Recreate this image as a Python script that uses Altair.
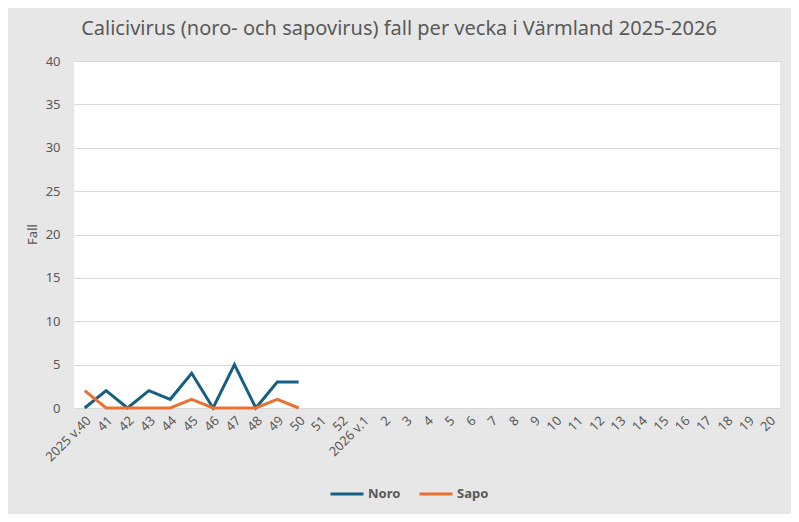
import altair as alt
import pandas as pd

weeks = ["2025 v.40", "41", "42", "43", "44", "45", "46", "47", "48", "49", "50", "51", "52",
         "2026 v.1", "2", "3", "4", "5", "6", "7", "8", "9", "10", "11", "12", "13", "14", "15",
         "16", "17", "18", "19", "20"]
observed_weeks = ["2025 v.40", "41", "42", "43", "44", "45", "46", "47", "48", "49", "50"]
noro = [0, 2, 0, 2, 1, 4, 0, 5, 0, 3, 3]
sapo = [2, 0, 0, 0, 0, 1, 0, 0, 0, 1, 0]
series = ["Noro", "Sapo"]
colors = ["#156082", "#E97132"]

rows = []
for name, vals in zip(series, [noro, sapo]):
    for w, v in zip(observed_weeks, vals):
        rows.append({"Vecka": w, "Fall": v, "Typ": name})
df = pd.DataFrame(rows)

FONT = "Noto Sans"
TXT = "#595959"

chart = alt.Chart(df).mark_line(strokeWidth=3, strokeCap="butt", strokeJoin="miter").encode(
    x=alt.X("Vecka:N", sort=weeks,
            scale=alt.Scale(domain=weeks, paddingInner=0, paddingOuter=0, align=0.5, type="band"),
            axis=alt.Axis(title=None, labelAngle=-45, labelFontSize=13, labelColor=TXT,
                          labelFont=FONT, ticks=False, domainColor="#d9d9d9", domainWidth=1,
                          labelPadding=6, grid=False)),
    y=alt.Y("Fall:Q", scale=alt.Scale(domain=[0, 40], nice=False),
            axis=alt.Axis(values=[0, 5, 10, 15, 20, 25, 30, 35, 40], title="Fall",
                          titleFont=FONT, titleFontSize=13, titleColor=TXT, titleFontWeight=400,
                          titleX=-42, titleY=173, titleAlign="center", titleBaseline="middle",
                          titleAngle=-90,
                          labelFontSize=13, labelColor=TXT, labelFont=FONT, ticks=False,
                          domain=False, gridColor="#d9d9d9", gridWidth=1, labelPadding=14)),
    color=alt.Color("Typ:N", scale=alt.Scale(domain=series, range=colors),
                    legend=alt.Legend(title=None, orient="none", legendX=255, legendY=415,
                                      direction="horizontal", symbolType="stroke",
                                      symbolStrokeWidth=3, symbolSize=1089,
                                      labelFont=FONT, labelFontSize=13, labelFontWeight="bold",
                                      labelColor=TXT, columnPadding=12, labelOffset=3)),
).properties(
    width=706,
    height=347,
    title=alt.Title("Calicivirus (noro- och sapovirus) fall per vecka i Värmland 2025-2026",
                    font=FONT, fontSize=20, color=TXT, fontWeight="normal",
                    anchor="middle", offset=16, dx=-28),
    autosize=alt.AutoSizeParams(type="none"),
    padding={"left": 66, "top": 53, "right": 11, "bottom": 106},
).configure(background="#e7e7e7").configure_view(fill="white", stroke=None)

chart.save("out.html", embed_options={"renderer": "svg", "actions": False})
